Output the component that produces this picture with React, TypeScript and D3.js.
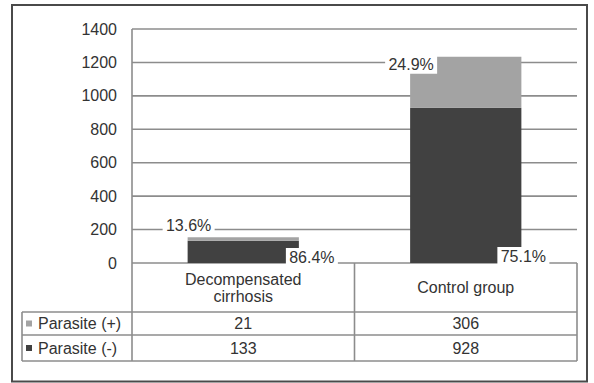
import React from 'react';
import * as d3 from 'd3';

const categories = ['Decompensated cirrhosis', 'Control group'];
const categoryLines = [['Decompensated', 'cirrhosis'], ['Control group']];
const seriesNames = ['Parasite (+)', 'Parasite (-)'];
const parasitePos = [21, 306];
const parasiteNeg = [133, 928];
const posLabels = ['13.6%', '24.9%'];
const negLabels = ['86.4%', '75.1%'];
const yTicks = [0, 200, 400, 600, 800, 1000, 1200, 1400];

const W = 594;
const H = 383;
const plot = { left: 132, right: 577, top: 29, bottom: 263 };
const table = { left: 22, catBottom: 312, row1: 335, row2: 361 };
const FONT = '"Liberation Sans", Arial, sans-serif';
const TXT = '#333';
const GRID = '#8c8c8c';
const DARK = '#414141';
const LIGHT = '#a3a3a3';

// label placement tweaks (relative to bar edges)
const posOffsets = [
  { dx: 1, dy: -12 },
  { dx: 1, dy: 8 },
];
const negOffsets = [
  { dx: 13, dy: -6 },
  { dx: 2, dy: -7 },
];

export default function App() {
  const y = d3.scaleLinear().domain([0, 1400]).range([plot.bottom, plot.top]);
  const xCol = d3.scaleBand<string>().domain(categories).range([plot.left, plot.right]);
  const xBar = d3
    .scaleBand<string>()
    .domain(categories)
    .range([plot.left, plot.right])
    .paddingInner(0.5)
    .paddingOuter(0.25);

  const stack = d3
    .stack<number>()
    .keys(['neg', 'pos'])
    .value((i, k) => (k === 'neg' ? parasiteNeg[i] : parasitePos[i]));
  const layers = stack(categories.map((_, i) => i));

  const labelBox = (text: string, cx: number, cy: number, key: string) => {
    const w = text.length * 9.6 + 4;
    return (
      <g key={key}>
        <rect x={cx - w / 2} y={cy - 9} width={w} height={18} fill="#fff" />
        <text x={cx} y={cy} dy="0.35em" textAnchor="middle" fontSize={16} fill={TXT}>
          {text}
        </text>
      </g>
    );
  };

  return (
    <svg
      width={W}
      height={H}
      style={{ position: 'absolute', left: 0, top: 0, background: '#fff' }}
      fontFamily={FONT}
    >
      <rect x={12} y={5} width={575} height={376.5} fill="#fff" stroke="#4a4a4a" strokeWidth={2} />

      {/* gridlines + y labels */}
      {yTicks.map((t) => (
        <g key={t}>
          <line x1={plot.left} x2={plot.right} y1={y(t)} y2={y(t)} stroke={GRID} strokeWidth={1.6} />
          <text x={117} y={y(t)} dy="0.35em" textAnchor="end" fontSize={16} fill={TXT}>
            {t}
          </text>
        </g>
      ))}

      {/* bars */}
      {layers.map((layer, li) =>
        layer.map((d, i) => (
          <rect
            key={`${li}-${i}`}
            x={xBar(categories[i])}
            y={y(d[1])}
            width={xBar.bandwidth()}
            height={y(d[0]) - y(d[1])}
            fill={li === 0 ? DARK : LIGHT}
          />
        ))
      )}

      {/* data labels */}
      {categories.map((c, i) => {
        const x0 = xBar(c) as number;
        const x1 = x0 + xBar.bandwidth();
        const top = y(parasitePos[i] + parasiteNeg[i]);
        return (
          <g key={c}>
            {labelBox(posLabels[i], x0 + posOffsets[i].dx, top + posOffsets[i].dy, 'p' + i)}
            {labelBox(negLabels[i], x1 + negOffsets[i].dx, y(0) + negOffsets[i].dy, 'n' + i)}
          </g>
        );
      })}

      {/* y axis line */}
      <line x1={plot.left} x2={plot.left} y1={plot.top} y2={table.row2} stroke={GRID} strokeWidth={1.6} />

      {/* data table */}
      {categories.map((c) => (
        <line
          key={c}
          x1={(xCol(c) as number) + xCol.bandwidth()}
          x2={(xCol(c) as number) + xCol.bandwidth()}
          y1={plot.bottom}
          y2={table.row2}
          stroke={GRID}
          strokeWidth={1.6}
        />
      ))}
      {[table.catBottom, table.row1, table.row2].map((ly) => (
        <line key={ly} x1={table.left} x2={plot.right} y1={ly} y2={ly} stroke={GRID} strokeWidth={1.6} />
      ))}
      <line x1={table.left} x2={table.left} y1={table.catBottom} y2={table.row2} stroke={GRID} strokeWidth={1.6} />

      {categories.map((c, i) => {
        const cx = (xCol(c) as number) + xCol.bandwidth() / 2;
        const lines = categoryLines[i];
        const midY = (plot.bottom + table.catBottom) / 2;
        return (
          <g key={c}>
            {lines.map((ln, k) => (
              <text
                key={ln}
                x={cx}
                y={midY + (k - (lines.length - 1) / 2) * 17}
                dy="0.35em"
                textAnchor="middle"
                fontSize={16}
                fill={TXT}
              >
                {ln}
              </text>
            ))}
            <text x={cx} y={(table.catBottom + table.row1) / 2} dy="0.35em" textAnchor="middle" fontSize={16} fill={TXT}>
              {parasitePos[i]}
            </text>
            <text x={cx} y={(table.row1 + table.row2) / 2} dy="0.35em" textAnchor="middle" fontSize={16} fill={TXT}>
              {parasiteNeg[i]}
            </text>
          </g>
        );
      })}

      {seriesNames.map((s, i) => {
        const cy = i === 0 ? (table.catBottom + table.row1) / 2 : (table.row1 + table.row2) / 2;
        return (
          <g key={s}>
            <rect x={26} y={cy - 3} width={6} height={6} fill={i === 0 ? LIGHT : DARK} />
            <text x={38} y={cy} dy="0.35em" fontSize={16} fill={TXT}>
              {s}
            </text>
          </g>
        );
      })}
    </svg>
  );
}
